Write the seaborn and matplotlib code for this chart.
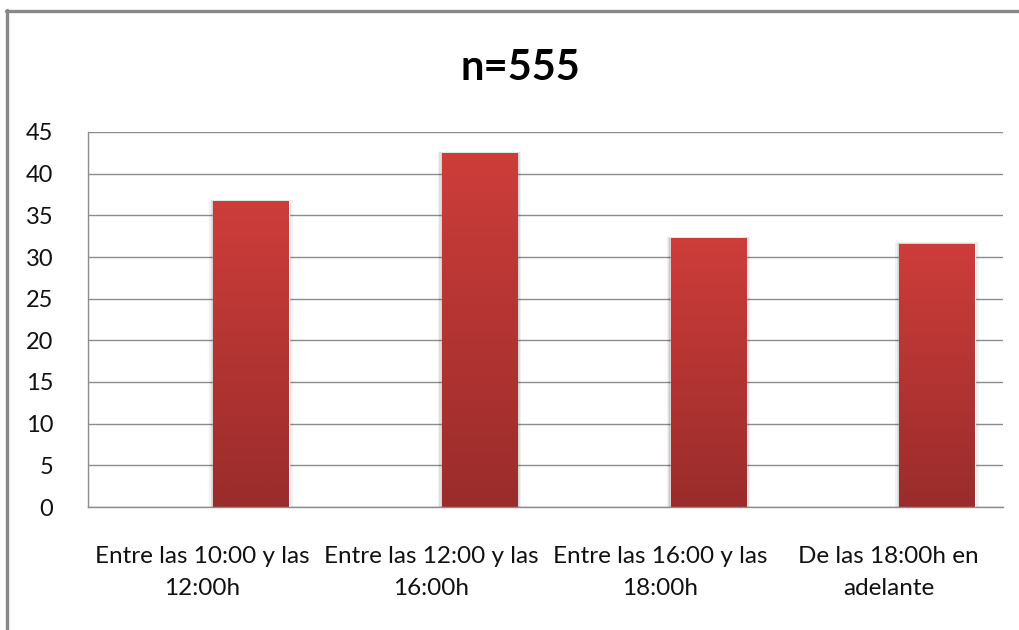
import numpy as np
import pandas as pd
import matplotlib
matplotlib.use("Agg")
import matplotlib.pyplot as plt
import seaborn as sns
from matplotlib.colors import LinearSegmentedColormap
from matplotlib.lines import Line2D
from matplotlib.patches import Rectangle

# Chart data
categories = [
    "Entre las 10:00 y las\n12:00h",
    "Entre las 12:00 y las\n16:00h",
    "Entre las 16:00 y las\n18:00h",
    "De las 18:00h en\nadelante",
]
values = [36.7, 42.5, 32.3, 31.6]
y_ticks = [0, 5, 10, 15, 20, 25, 30, 35, 40, 45]
title = "n=555"

sns.set_theme(style="white")
plt.rcParams["font.family"] = ["Lato", "DejaVu Sans"]

fig = plt.figure(figsize=(10.2, 6.3), dpi=100)
ax = fig.add_axes([88 / 1020, 1 - 507 / 630, 915 / 1020, 375 / 630])

# Bars sit in the right half of each category slot
bar_offset = 0.212
df = pd.DataFrame({"pos": np.arange(len(categories)) + bar_offset, "value": values})
sns.barplot(data=df, x="pos", y="value", native_scale=True, width=0.33,
            color="#B83533", saturation=1, ax=ax, zorder=3)

# Vertical gradient fill and soft shadow for each bar
grad = LinearSegmentedColormap.from_list("bar", ["#9A2C2B", "#CD3D3A"])
gradient = np.linspace(0, 1, 256).reshape(-1, 1)
for patch in list(ax.patches):
    x0, y0 = patch.get_x(), patch.get_y()
    w, h = patch.get_width(), patch.get_height()
    for k, a in ((0.018, 0.05), (0.011, 0.07), (0.005, 0.09)):
        ax.add_patch(Rectangle((x0 - k, y0), w + 2 * k, h + k * 8,
                               facecolor="black", alpha=a, lw=0, zorder=2.5))
    im = ax.imshow(gradient, extent=[x0, x0 + w, y0, y0 + h], origin="lower",
                   cmap=grad, aspect="auto", zorder=3.5, interpolation="bicubic")
    im.set_clip_path(patch)

ax.set_xlim(-0.5, len(categories) - 0.5)
ax.set_ylim(0, 45)
ax.set_yticks(y_ticks)
ax.set_yticklabels([str(t) for t in y_ticks])
ax.set_xticks(np.arange(len(categories)))
ax.set_xticklabels(categories, linespacing=1.65)
ax.set_xlabel("")
ax.set_ylabel("")

ax.yaxis.grid(True, color="#8C8C8C", lw=1.0)
ax.xaxis.grid(False)
ax.set_axisbelow(True)
for side in ("top", "right"):
    ax.spines[side].set_visible(False)
for side in ("left", "bottom"):
    ax.spines[side].set_color("#8C8C8C")
    ax.spines[side].set_linewidth(1.0)
    ax.spines[side].set_zorder(4)

ax.tick_params(axis="y", length=0, pad=25, labelsize=17, labelcolor="#111111")
ax.tick_params(axis="x", length=0, pad=28, labelsize=17.5, labelcolor="#111111")

fig.text(520 / 1020, 1 - 68 / 630, title, ha="center", va="center",
         fontsize=30, fontweight="bold", color="#000000")

# Chart-area frame (top and left edges)
fig.add_artist(Line2D([6 / 1020, 1], [1 - 11 / 630, 1 - 11 / 630],
                      transform=fig.transFigure, color="#888888", lw=2.4))
fig.add_artist(Line2D([7 / 1020, 7 / 1020], [0, 1 - 10 / 630],
                      transform=fig.transFigure, color="#888888", lw=2.4))

fig.savefig("out.png", dpi=100, facecolor="white")
